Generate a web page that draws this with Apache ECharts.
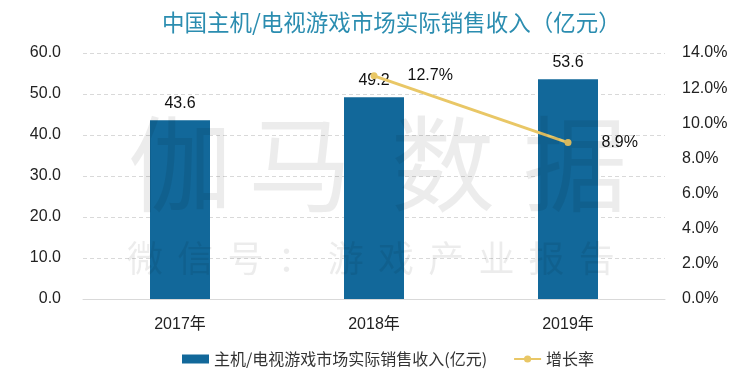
<!DOCTYPE html>
<html>
<head>
<meta charset="utf-8">
<script src="https://cdn.jsdelivr.net/npm/echarts@6/dist/echarts.min.js"></script>
<style>html,body{margin:0;padding:0;background:#fff;}#c{width:750px;height:384px;}</style>
</head>
<body>
<div id="c"></div>
<script>
var titleText = '中国主机/电视游戏市场实际销售收入（亿元）';
var categories = ['2017年', '2018年', '2019年'];
var revenueName = '主机/电视游戏市场实际销售收入(亿元)';
var revenue = [43.6, 49.2, 53.6];
var growthName = '增长率';
var growth = [null, 12.7, 8.9];
var watermarkBig = ['伽', '马', '数', '据'];
var watermarkSmall = ['微', '信', '号', '：', '游', '戏', '产', '业', '报', '告'];

var font = '"Liberation Sans", "Noto Sans CJK SC", sans-serif';
var cjk = '"Noto Sans CJK SC", sans-serif';
var chart = echarts.init(document.getElementById('c'), null, {renderer: 'canvas'});

var graphics = [];
var bigX = [180, 300, 443, 575];
watermarkBig.forEach(function (ch, i) {
  graphics.push({type: 'text', left: bigX[i] - 52, top: 112, z: 100, silent: true,
    style: {text: ch, font: '104px ' + cjk, fill: 'rgba(0,0,0,0.075)'}});
});
watermarkSmall.forEach(function (ch, i) {
  graphics.push({type: 'text', left: 145 + 50.2 * i - 18, top: 240, z: 100, silent: true,
    style: {text: ch, font: '36px ' + cjk, fill: 'rgba(0,0,0,0.075)'}});
});

chart.setOption({
  backgroundColor: '#fff',
  animation: false,
  title: {
    text: titleText, left: 157, top: 6,
    textStyle: {fontFamily: cjk, fontSize: 22.5, fontWeight: 'normal', color: '#2b8db0'}
  },
  legend: {
    bottom: 12, left: 177, itemGap: 26, itemWidth: 27, itemHeight: 9,
    textStyle: {fontFamily: cjk, fontSize: 16, color: '#333'},
    data: [{name: revenueName, icon: 'rect'}, {name: growthName}]
  },
  grid: {left: 83, right: 85, top: 53, bottom: 85},
  xAxis: {
    type: 'category', data: categories,
    axisLine: {lineStyle: {color: '#d9d9d9'}},
    axisTick: {show: false},
    axisLabel: {fontFamily: font, fontSize: 16, color: '#222', margin: 18}
  },
  yAxis: [{
    type: 'value', min: 0, max: 60, interval: 10,
    axisLine: {show: false}, axisTick: {show: false},
    splitLine: {lineStyle: {color: '#d9d9d9', type: [4, 3]}},
    axisLabel: {fontFamily: font, fontSize: 16, color: '#222', margin: 22,
      formatter: function (v) { return v.toFixed(1); }}
  }, {
    type: 'value', min: 0, max: 14, interval: 2,
    axisLine: {show: false}, axisTick: {show: false}, splitLine: {show: false},
    axisLabel: {fontFamily: font, fontSize: 16, color: '#222', margin: 17,
      formatter: function (v) { return v.toFixed(1) + '%'; }}
  }],
  series: [{
    name: revenueName, type: 'bar', data: revenue, barWidth: 60,
    itemStyle: {color: '#12689a'},
    label: {show: true, position: 'top', distance: 9, fontFamily: font, fontSize: 16, color: '#111',
      formatter: function (p) { return p.value.toFixed(1); }}
  }, {
    name: growthName, type: 'line', yAxisIndex: 1, data: growth,
    symbol: 'circle', symbolSize: 7, connectNulls: false,
    lineStyle: {color: '#e9c766', width: 3},
    itemStyle: {color: '#e9c766'},
    label: {show: true, position: 'right', distance: 30, fontFamily: font, fontSize: 16, color: '#111',
      formatter: function (p) { return p.value.toFixed(1) + '%'; }}
  }],
  graphic: graphics
});
</script>
</body>
</html>
